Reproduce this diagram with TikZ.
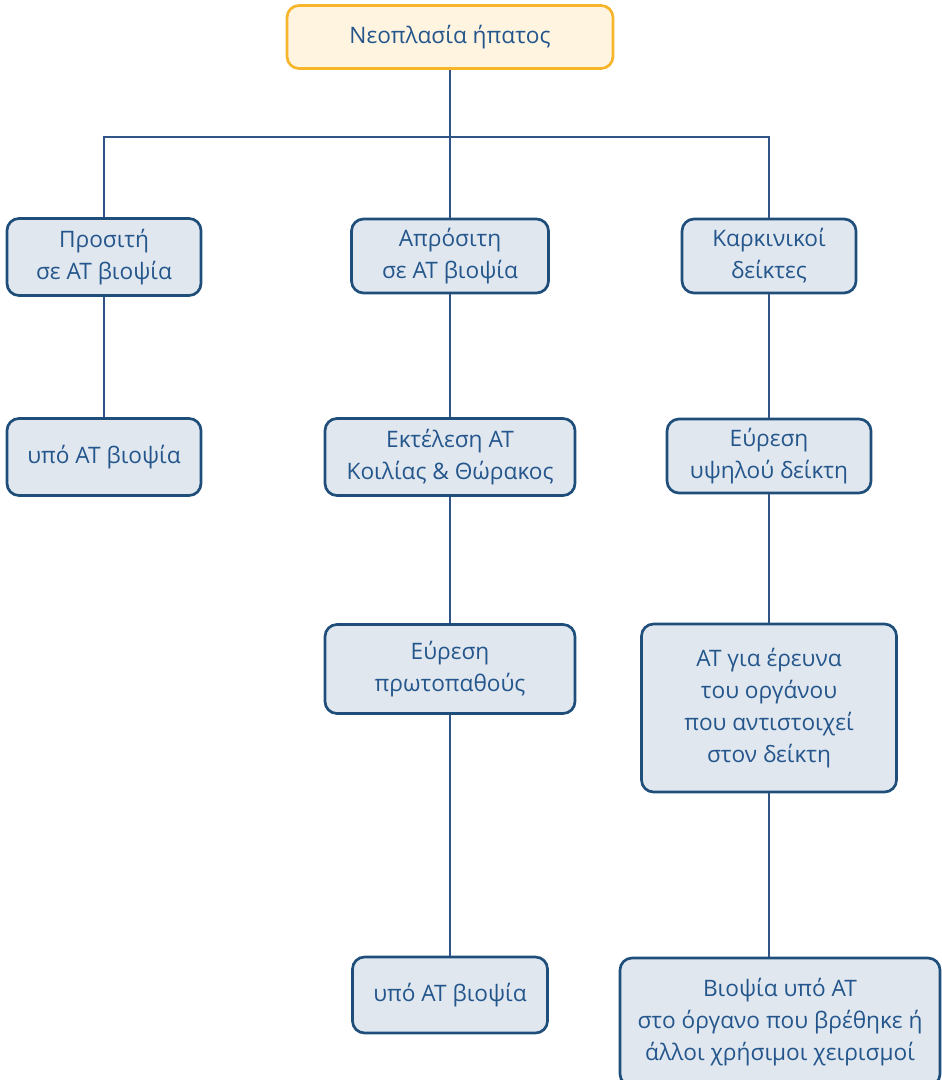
\documentclass[tikz,border=0pt]{standalone}
\usepackage{fontspec}
\setmainfont{Open Sans}
\usetikzlibrary{positioning}
\definecolor{navy}{RGB}{31,78,122}
\definecolor{linkblue}{RGB}{47,84,133}
\definecolor{textblue}{RGB}{36,86,140}
\definecolor{paleblue}{RGB}{224,231,239}
\definecolor{amber}{RGB}{247,181,44}
\definecolor{cream}{RGB}{255,244,223}
\tikzset{
  stepbox/.style={draw=navy,fill=paleblue,line width=2pt,rounded corners=9pt,
    align=center,text=textblue,font=\fontsize{17}{24}\selectfont,inner sep=2pt},
  rootbox/.style={stepbox,draw=amber,fill=cream},
  link/.style={draw=linkblue,line width=1.1pt}
}

\begin{document}
\begin{tikzpicture}[x=0.75pt,y=-0.75pt]
    \useasboundingbox (0,0) rectangle (941,1080);
    \node[rootbox,minimum width=326*0.75pt,minimum height=63*0.75pt] (root) at (450,37) {Νεοπλασία ήπατος};
    \foreach \n/\t/\x/\y/\w/\h in {
      acc/{Προσιτή\\σε ΑΤ βιοψία}/104/257/194/77,
      inacc/{Απρόσιτη\\σε ΑΤ βιοψία}/450/256/197/74,
      mark/{Καρκινικοί\\δείκτες}/769/256/174/74,
      accbx/{υπό ΑΤ βιοψία}/104/457/194/77,
      exec/{Εκτέλεση ΑΤ\\Κοιλίας \& Θώρακος}/450/457/250/77,
      high/{Εύρεση\\υψηλού δείκτη}/769/456/204/74,
      prim/{Εύρεση\\πρωτοπαθούς}/450/669/250/89,
      organ/{ΑΤ για έρευνα\\του οργάνου\\που αντιστοιχεί\\στον δείκτη}/769/708/255/168,
      inaccbx/{υπό ΑΤ βιοψία}/450/995/195/76,
      final/{Βιοψία υπό ΑΤ\\στο όργανο που βρέθηκε ή\\άλλοι χρήσιμοι χειρισμοί}/780/1022/320/128}
    {
      \node[stepbox,minimum width=\w*0.75pt,minimum height=\h*0.75pt] (\n) at (\x,\y) {\t};
    }
    % tree
    \coordinate (bus) at (450,137);
    \draw[link] (root) -- (bus);
    \draw[link] (acc) |- (bus) -| (mark);
    \draw[link] (bus) -- (inacc);
    \draw[link] (acc) -- (accbx);
    \draw[link] (inacc) -- (exec);
    \draw[link] (exec) -- (prim);
    \draw[link] (prim) -- (inaccbx);
    \draw[link] (mark) -- (high);
    \draw[link] (high) -- (organ);
    \draw[link] (organ) -- (organ |- final.north);
  \end{tikzpicture}
\end{document}
